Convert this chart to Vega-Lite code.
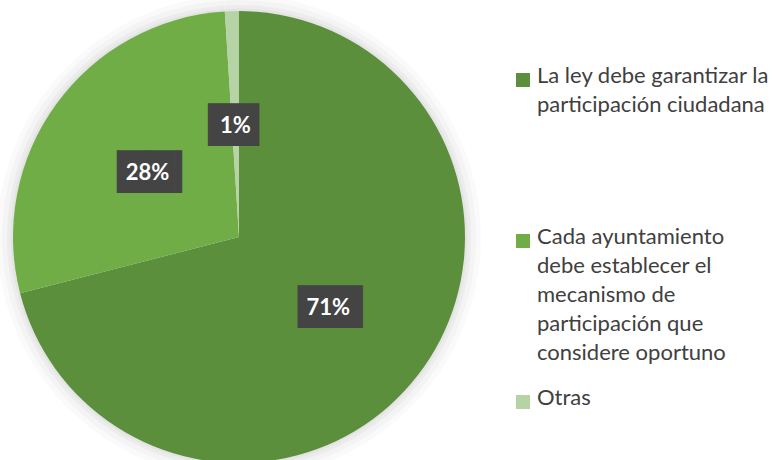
{
  "$schema": "https://vega.github.io/schema/vega-lite/v6.json",
  "width": 772,
  "height": 460,
  "autosize": {"type": "fit", "contains": "padding"},
  "padding": {"top": 14, "bottom": 0, "left": 0, "right": 2},
  "background": "white",
  "config": {"view": {"stroke": null}},
  "data": {
    "values": [
      {"categoria": "La ley debe garantizar la participación ciudadana", "valor": 0.71, "orden": 1},
      {"categoria": "Cada ayuntamiento debe establecer el mecanismo de participación que considere oportuno", "valor": 0.28, "orden": 2},
      {"categoria": "Otras", "valor": 0.01, "orden": 3}
    ]
  },
  "encoding": {
    "theta": {"field": "valor", "type": "quantitative", "stack": true},
    "order": {"field": "orden", "type": "quantitative"}
  },
  "layer": [
    {"mark": {"type": "arc", "outerRadius": 242, "color": "black", "opacity": 0.02}},
    {"mark": {"type": "arc", "outerRadius": 237, "color": "black", "opacity": 0.025}},
    {"mark": {"type": "arc", "outerRadius": 232, "color": "black", "opacity": 0.03}},
    {"mark": {"type": "arc", "outerRadius": 228.5, "color": "black", "opacity": 0.03}},
    {
      "mark": {"type": "arc", "outerRadius": 226},
      "encoding": {
        "color": {
          "field": "categoria",
          "type": "nominal",
          "scale": {
            "domain": [
              "La ley debe garantizar la participación ciudadana",
              "Cada ayuntamiento debe establecer el mecanismo de participación que considere oportuno",
              "Otras"
            ],
            "range": ["#5b8f3b", "#70ad47", "#b6d3a5"]
          },
          "legend": {
            "orient": "right",
            "offset": 34,
            "title": " ",
            "titleFontSize": 10,
            "titlePadding": 33,
            "symbolType": "square",
            "symbolSize": 196,
            "symbolStrokeWidth": 0,
            "labelFont": "Lato",
            "labelFontSize": 22,
            "labelColor": "#404040",
            "labelLimit": 400,
            "labelBaseline": "top",
            "rowPadding": 23,
            "labelOffset": 3,
            "labelExpr": "datum.label == 'Otras' ? 'Otras' : (indexof(datum.label, 'La ley') == 0 ? ['La ley debe garantizar la', 'participación ciudadana', '', '', ''] : ['Cada ayuntamiento', 'debe establecer el', 'mecanismo de', 'participación que', 'considere oportuno'])",
            "encode": {"labels": {"update": {"lineHeight": {"value": 29}, "dy": {"value": -14}}}}
          }
        }
      }
    },
    {
      "mark": {"type": "text", "radius": 113, "dy": 2, "font": "DejaVu Sans", "fontSize": 36, "color": "#444444"},
      "encoding": {
        "text": {"condition": {"test": "datum.valor < 0.05", "value": "▐█▍"}, "value": "▕██▎"}
      }
    },
    {
      "mark": {"type": "text", "radius": 113, "dy": 2, "font": "Lato", "fontWeight": "bold", "fontSize": 22, "color": "white"},
      "encoding": {
        "text": {"field": "valor", "type": "quantitative", "format": ".0%"}
      }
    }
  ]
}
